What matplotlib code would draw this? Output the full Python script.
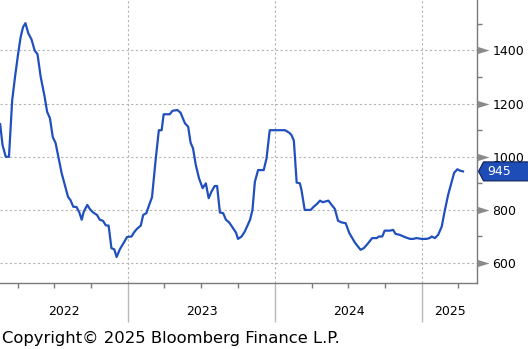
import matplotlib
matplotlib.use("Agg")
import matplotlib.pyplot as plt
import matplotlib.dates as mdates
import pandas as pd
import numpy as np
from matplotlib.patches import Polygon
from matplotlib.transforms import IdentityTransform, blended_transform_factory
from matplotlib.path import Path

# Weekly index readings, Feb 2022 - Apr 2025
dates = [
    "2022-02-16", "2022-02-22", "2022-03-02", "2022-03-10", "2022-03-18", "2022-03-25",
    "2022-04-02", "2022-04-08", "2022-04-14", "2022-04-20", "2022-04-27", "2022-05-05",
    "2022-05-13", "2022-05-20", "2022-05-28", "2022-06-06", "2022-06-13", "2022-06-20",
    "2022-06-27", "2022-07-04", "2022-07-11", "2022-07-19", "2022-07-27", "2022-08-04",
    "2022-08-10", "2022-08-17", "2022-08-25", "2022-09-01", "2022-09-07", "2022-09-12",
    "2022-09-21", "2022-09-27", "2022-10-05", "2022-10-15", "2022-10-22", "2022-10-30",
    "2022-11-06", "2022-11-13", "2022-11-20", "2022-11-27", "2022-12-03", "2022-12-11",
    "2022-12-21", "2022-12-29",
    "2023-01-09", "2023-01-15", "2023-01-22", "2023-02-01", "2023-02-07", "2023-02-15",
    "2023-02-22", "2023-03-01", "2023-03-10", "2023-03-18", "2023-03-25", "2023-03-30",
    "2023-04-14", "2023-04-21", "2023-05-03", "2023-05-11", "2023-05-22", "2023-05-30",
    "2023-06-05", "2023-06-11", "2023-06-18", "2023-06-26", "2023-07-05", "2023-07-13",
    "2023-07-20", "2023-07-27", "2023-08-04", "2023-08-10", "2023-08-17", "2023-08-25",
    "2023-09-01", "2023-09-09", "2023-09-19", "2023-09-26", "2023-10-01", "2023-10-10",
    "2023-10-18", "2023-10-31",
    "2023-11-06", "2023-11-12", "2023-11-20", "2023-12-04", "2023-12-11", "2023-12-19",
    "2024-01-26", "2024-02-06", "2024-02-11", "2024-02-17", "2024-02-24", "2024-03-03",
    "2024-03-07", "2024-03-15", "2024-03-30", "2024-04-07", "2024-04-15", "2024-04-22",
    "2024-04-29", "2024-05-13", "2024-05-21", "2024-05-29", "2024-06-06", "2024-06-15",
    "2024-06-25", "2024-07-04", "2024-07-18", "2024-08-01",
    "2024-08-09", "2024-08-20", "2024-08-30", "2024-09-10", "2024-09-16", "2024-09-24",
    "2024-09-30", "2024-10-13", "2024-10-21", "2024-10-27", "2024-11-07", "2024-11-19",
    "2024-12-02", "2024-12-10", "2024-12-18", "2024-12-31", "2025-01-12", "2025-01-20",
    "2025-01-25", "2025-02-02", "2025-02-10", "2025-02-19", "2025-02-27", "2025-03-07",
    "2025-03-16", "2025-03-22", "2025-03-30", "2025-04-05", "2025-04-13",
]
values = [
    1123, 1044, 1000, 1000, 1213, 1300,
    1390, 1450, 1488, 1503, 1465, 1442,
    1400, 1386, 1300, 1232, 1169, 1145,
    1074, 1052, 1000, 939, 894, 849,
    837, 812, 811, 791, 763, 793,
    819, 804, 791, 781, 763, 759,
    742, 741, 656, 652, 623, 652,
    678, 698,
    700, 715, 728, 741, 781, 788,
    819, 848, 988, 1100, 1100, 1160,
    1160, 1173, 1176, 1166, 1126, 1113,
    1053, 1032, 969, 919, 882, 900,
    844, 869, 890, 890, 790, 788,
    763, 753, 731, 715, 691, 700,
    719, 763,
    800, 906, 950, 950, 994, 1100,
    1100, 1090, 1082, 1061, 903, 900,
    875, 800, 800, 813, 823, 835,
    829, 835, 819, 804, 759, 753,
    750, 713, 677, 650,
    656, 675, 694, 694, 700, 700,
    722, 722, 725, 710, 706, 698,
    691, 691, 694, 691, 691, 694,
    700, 694, 706, 737, 800, 857,
    906, 940, 953, 948, 945,
]
last_value = 945

y_major = [600, 800, 1000, 1200, 1400]
y_minor = [700, 900, 1100, 1300, 1500]
years = [2022, 2023, 2024, 2025]

LINE = "#2050BE"
SPINE = "#7a7a7a"
GRID = "#b4b4b4"

W, H, DPI = 528, 349, 100
fig = plt.figure(figsize=(W / DPI, H / DPI), dpi=DPI)
plt.rcParams["font.family"] = ["DejaVu Sans"]

ax_right_px, ax_bottom_px = 477, 283
ax = fig.add_axes([0, 1 - ax_bottom_px / H, ax_right_px / W, ax_bottom_px / H])

x = mdates.date2num(pd.to_datetime(dates))
ax.plot(x, values, color=LINE, lw=1.6, solid_joinstyle="round", zorder=3)

x0 = mdates.date2num(pd.Timestamp("2022-02-15 16:00"))
x1 = mdates.date2num(pd.Timestamp("2025-05-17 20:00"))
ax.set_xlim(x0, x1)
ax.set_ylim(525, 1590)

# spines
for s in ["left", "top"]:
    ax.spines[s].set_visible(False)
for s in ["right", "bottom"]:
    ax.spines[s].set_color(SPINE)
    ax.spines[s].set_linewidth(1.0)

# y axis on the right
ax.yaxis.tick_right()
ax.set_yticks(y_major)
ax.set_yticks(y_minor, minor=True)
ax.set_yticklabels([str(v) for v in y_major])
ax.tick_params(axis="y", which="major", length=0, pad=11, labelsize=9, labelcolor="black")
ax.tick_params(axis="y", which="minor", length=3.8, width=1.0, color=SPINE, direction="out")
ax.grid(axis="y", which="major", color=GRID, linestyle=(0, (2, 2.2)), linewidth=0.8, zorder=1)

# triangular markers at major y ticks
tri = Path([(-1, -0.62), (1, 0), (-1, 0.62), (-1, -0.62)],
           [Path.MOVETO, Path.LINETO, Path.LINETO, Path.CLOSEPOLY])
btrans = blended_transform_factory(ax.transAxes, ax.transData)
ax.plot([1 + 6.0 / ax_right_px] * len(y_major), y_major, linestyle="none",
        marker=tri, markersize=8.6, color="#8a8a8a", markeredgewidth=0,
        transform=btrans, clip_on=False, zorder=4)

# x axis: quarter ticks, long year-boundary ticks, year labels
year_starts = [mdates.date2num(pd.Timestamp(f"{y}-01-01")) for y in years[1:]]
quarters = [mdates.date2num(pd.Timestamp(f"{y}-{m:02d}-01"))
            for y in years for m in (4, 7, 10)]
quarters = [q for q in quarters if x0 <= q <= x1]
ax.set_xticks(year_starts)
ax.set_xticks(quarters, minor=True)
ax.set_xticklabels([])
ax.tick_params(axis="x", which="major", length=28, width=1.0, color="#b8b8b8", direction="out")
ax.tick_params(axis="x", which="minor", length=3.8, width=1.0, color=SPINE, direction="out")
for ys in year_starts:
    ax.axvline(ys, color=GRID, linestyle=(0, (2, 2.2)), linewidth=0.8, zorder=1)

xtrans = blended_transform_factory(ax.transData, ax.transAxes)
label_y = -(311.7 - ax_bottom_px) / ax_bottom_px
for yr in years:
    a = max(mdates.date2num(pd.Timestamp(f"{yr}-01-01")), x0)
    b = min(mdates.date2num(pd.Timestamp(f"{yr + 1}-01-01")), x1)
    ax.text((a + b) / 2, label_y, str(yr), transform=xtrans, ha="center", va="center",
            fontsize=9, color="black")

# last value tag
fig.canvas.draw()
_, ty = ax.transData.transform((x1, last_value))
tag = Polygon([(478.5, ty), (483.5, ty + 9.5), (W + 2, ty + 9.5), (W + 2, ty - 9.5), (483.5, ty - 9.5)],
              closed=True, facecolor="#1f4db8", edgecolor="#0c1f55", linewidth=0.8,
              transform=IdentityTransform(), zorder=5)
fig.add_artist(tag)
fig.text(487 / W, ty / H, f"{last_value}", color="white", fontsize=9, ha="left", va="center", zorder=6)

fig.text(2 / W, 1 - 343.3 / H, "Copyright\u00a9 2025 Bloomberg Finance L.P.",
         fontsize=11.8, color="black", ha="left", va="baseline")

fig.savefig("out.png", dpi=DPI)
